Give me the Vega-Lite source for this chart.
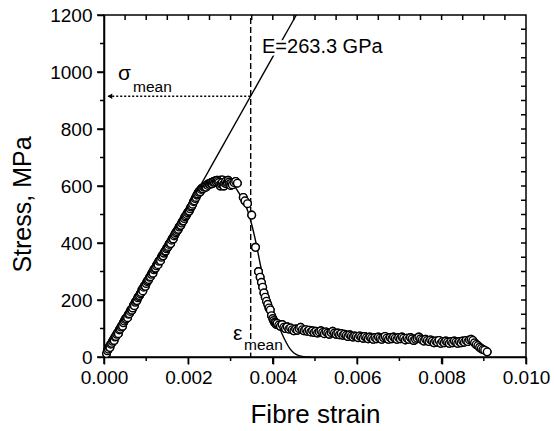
{
  "$schema": "https://vega.github.io/schema/vega-lite/v6.json",
  "width": 422,
  "height": 342,
  "autosize": "none",
  "padding": {"left": 104, "top": 15, "right": 28, "bottom": 74},
  "config": {
    "font": "Liberation Sans",
    "view": {"stroke": null},
    "axis": {"domainColor": "black", "tickColor": "black", "labelColor": "black", "titleColor": "black", "grid": false}
  },
  "datasets": {
    "pts": [
      {"strain":0.00006,"stress":12},{"strain":0.00008,"stress":22},{"strain":0.0001,"stress":28},{"strain":0.00012,"stress":35},{"strain":0.00014,"stress":33},{"strain":0.00016,"stress":45},{"strain":0.00018,"stress":48},{"strain":0.0002,"stress":55},{"strain":0.00022,"stress":60},{"strain":0.00024,"stress":58},{"strain":0.00026,"stress":70},{"strain":0.00028,"stress":72},{"strain":0.0003,"stress":80},{"strain":0.00032,"stress":84},{"strain":0.00034,"stress":82},{"strain":0.00036,"stress":95},{"strain":0.00038,"stress":98},{"strain":0.0004,"stress":105},{"strain":0.00042,"stress":110},{"strain":0.00044,"stress":108},{"strain":0.00046,"stress":120},{"strain":0.00048,"stress":126},{"strain":0.0005,"stress":132},{"strain":0.00052,"stress":135},{"strain":0.00054,"stress":140},{"strain":0.00056,"stress":138},{"strain":0.00058,"stress":150},{"strain":0.0006,"stress":152},{"strain":0.00062,"stress":160},{"strain":0.00064,"stress":166},{"strain":0.00066,"stress":164},{"strain":0.00068,"stress":172},{"strain":0.0007,"stress":182},{"strain":0.00072,"stress":180},{"strain":0.00074,"stress":192},{"strain":0.00076,"stress":196},{"strain":0.00078,"stress":198},{"strain":0.0008,"stress":208},{"strain":0.00082,"stress":212},{"strain":0.00084,"stress":216},{"strain":0.00086,"stress":222},{"strain":0.00088,"stress":226},{"strain":0.0009,"stress":236},{"strain":0.00092,"stress":232},{"strain":0.00094,"stress":245},{"strain":0.00096,"stress":250},{"strain":0.00098,"stress":248},{"strain":0.001,"stress":258},{"strain":0.00102,"stress":265},{"strain":0.00104,"stress":268},{"strain":0.00106,"stress":272},{"strain":0.00108,"stress":280},{"strain":0.0011,"stress":282},{"strain":0.00112,"stress":290},{"strain":0.00114,"stress":296},{"strain":0.00116,"stress":294},{"strain":0.00118,"stress":306},{"strain":0.0012,"stress":310},{"strain":0.00122,"stress":312},{"strain":0.00124,"stress":320},{"strain":0.00126,"stress":326},{"strain":0.00128,"stress":324},{"strain":0.0013,"stress":336},{"strain":0.00132,"stress":340},{"strain":0.00134,"stress":338},{"strain":0.00136,"stress":350},{"strain":0.00138,"stress":356},{"strain":0.0014,"stress":355},{"strain":0.00142,"stress":364},{"strain":0.00144,"stress":370},{"strain":0.00146,"stress":372},{"strain":0.00148,"stress":380},{"strain":0.0015,"stress":384},{"strain":0.00152,"stress":388},{"strain":0.00154,"stress":395},{"strain":0.00156,"stress":400},{"strain":0.00158,"stress":398},{"strain":0.0016,"stress":410},{"strain":0.00162,"stress":416},{"strain":0.00164,"stress":414},{"strain":0.00166,"stress":425},{"strain":0.00168,"stress":430},{"strain":0.0017,"stress":436},{"strain":0.00172,"stress":440},{"strain":0.00174,"stress":445},{"strain":0.00176,"stress":448},{"strain":0.00178,"stress":456},{"strain":0.0018,"stress":460},{"strain":0.00182,"stress":462},{"strain":0.00184,"stress":470},{"strain":0.00186,"stress":476},{"strain":0.00188,"stress":478},{"strain":0.0019,"stress":486},{"strain":0.00192,"stress":492},{"strain":0.00194,"stress":495},{"strain":0.00196,"stress":500},{"strain":0.00198,"stress":506},{"strain":0.002,"stress":510},{"strain":0.00202,"stress":512},{"strain":0.00204,"stress":520},{"strain":0.00206,"stress":526},{"strain":0.00208,"stress":530},{"strain":0.0021,"stress":536},{"strain":0.00212,"stress":545},{"strain":0.00214,"stress":548},{"strain":0.00216,"stress":556},{"strain":0.00218,"stress":560},{"strain":0.0022,"stress":568},{"strain":0.00222,"stress":572},{"strain":0.00224,"stress":578},{"strain":0.00226,"stress":582},{"strain":0.00228,"stress":580},{"strain":0.0023,"stress":588},{"strain":0.00232,"stress":592},{"strain":0.00234,"stress":590},{"strain":0.00236,"stress":596},{"strain":0.00238,"stress":598},{"strain":0.0024,"stress":600},{"strain":0.00242,"stress":596},{"strain":0.00244,"stress":604},{"strain":0.00246,"stress":602},{"strain":0.00248,"stress":608},{"strain":0.0025,"stress":606},{"strain":0.00252,"stress":610},{"strain":0.00254,"stress":612},{"strain":0.00256,"stress":608},{"strain":0.00258,"stress":614},{"strain":0.0026,"stress":616},{"strain":0.00262,"stress":612},{"strain":0.00264,"stress":618},{"strain":0.00266,"stress":614},{"strain":0.00268,"stress":620},{"strain":0.0027,"stress":616},{"strain":0.00272,"stress":612},{"strain":0.00274,"stress":604},{"strain":0.00276,"stress":600},{"strain":0.00278,"stress":606},{"strain":0.0028,"stress":612},{"strain":0.00282,"stress":604},{"strain":0.00284,"stress":600},{"strain":0.00286,"stress":610},{"strain":0.00288,"stress":616},{"strain":0.0029,"stress":608},{"strain":0.00292,"stress":612},{"strain":0.00294,"stress":620},{"strain":0.00296,"stress":614},{"strain":0.00298,"stress":608},{"strain":0.003,"stress":602},{"strain":0.00302,"stress":610},{"strain":0.00304,"stress":604},{"strain":0.00308,"stress":612},{"strain":0.00312,"stress":616},{"strain":0.00316,"stress":610},
      {"strain":0.0033,"stress":560},{"strain":0.00334,"stress":548},{"strain":0.0034,"stress":538},{"strain":0.0035,"stress":498},{"strain":0.00359,"stress":385},{"strain":0.00366,"stress":300},{"strain":0.0037,"stress":280},{"strain":0.00373,"stress":262},{"strain":0.00376,"stress":245},{"strain":0.00379,"stress":225},{"strain":0.00382,"stress":210},{"strain":0.00385,"stress":196},{"strain":0.00388,"stress":185},{"strain":0.00391,"stress":172},{"strain":0.00394,"stress":165},{"strain":0.00397,"stress":145},{"strain":0.004,"stress":135},{"strain":0.00402,"stress":128},{"strain":0.00404,"stress":122},{"strain":0.00406,"stress":120},{"strain":0.00408,"stress":115},
      {"strain":0.0041,"stress":118},{"strain":0.00414,"stress":112},{"strain":0.00418,"stress":108},{"strain":0.00422,"stress":114},{"strain":0.00426,"stress":104},{"strain":0.0043,"stress":100},{"strain":0.00434,"stress":106},{"strain":0.00438,"stress":98},{"strain":0.00442,"stress":102},{"strain":0.00446,"stress":96},{"strain":0.0045,"stress":92},{"strain":0.00454,"stress":98},{"strain":0.00458,"stress":94},{"strain":0.00462,"stress":100},{"strain":0.00466,"stress":104},{"strain":0.0047,"stress":96},{"strain":0.00474,"stress":92},{"strain":0.00478,"stress":96},{"strain":0.00482,"stress":90},{"strain":0.00486,"stress":94},{"strain":0.0049,"stress":88},{"strain":0.00494,"stress":92},{"strain":0.00498,"stress":86},{"strain":0.00502,"stress":90},{"strain":0.00506,"stress":84},{"strain":0.0051,"stress":88},{"strain":0.00514,"stress":92},{"strain":0.00518,"stress":86},{"strain":0.00522,"stress":82},{"strain":0.00526,"stress":88},{"strain":0.0053,"stress":84},{"strain":0.00534,"stress":80},{"strain":0.00538,"stress":86},{"strain":0.00542,"stress":90},{"strain":0.00546,"stress":84},{"strain":0.0055,"stress":80},{"strain":0.00554,"stress":84},{"strain":0.00558,"stress":78},{"strain":0.00562,"stress":82},{"strain":0.00566,"stress":76},{"strain":0.0057,"stress":80},{"strain":0.00574,"stress":76},{"strain":0.00578,"stress":72},{"strain":0.00582,"stress":78},{"strain":0.00586,"stress":74},{"strain":0.0059,"stress":70},{"strain":0.00594,"stress":74},{"strain":0.00598,"stress":72},{"strain":0.00602,"stress":68},{"strain":0.00606,"stress":74},{"strain":0.0061,"stress":70},{"strain":0.00614,"stress":66},{"strain":0.00618,"stress":72},{"strain":0.00622,"stress":68},{"strain":0.00626,"stress":64},{"strain":0.0063,"stress":70},{"strain":0.00634,"stress":66},{"strain":0.00638,"stress":62},{"strain":0.00642,"stress":68},{"strain":0.00646,"stress":64},{"strain":0.0065,"stress":70},{"strain":0.00654,"stress":66},{"strain":0.00658,"stress":62},{"strain":0.00662,"stress":68},{"strain":0.00666,"stress":72},{"strain":0.0067,"stress":66},{"strain":0.00674,"stress":62},{"strain":0.00678,"stress":68},{"strain":0.00682,"stress":64},{"strain":0.00686,"stress":70},{"strain":0.0069,"stress":66},{"strain":0.00694,"stress":62},{"strain":0.00698,"stress":68},{"strain":0.00702,"stress":64},{"strain":0.00706,"stress":70},{"strain":0.0071,"stress":66},{"strain":0.00714,"stress":60},{"strain":0.00718,"stress":66},{"strain":0.00722,"stress":62},{"strain":0.00726,"stress":68},{"strain":0.0073,"stress":64},{"strain":0.00734,"stress":58},{"strain":0.00738,"stress":62},{"strain":0.00742,"stress":66},{"strain":0.00746,"stress":70},{"strain":0.0075,"stress":64},{"strain":0.00754,"stress":60},{"strain":0.00758,"stress":56},{"strain":0.00762,"stress":62},{"strain":0.00766,"stress":58},{"strain":0.0077,"stress":54},{"strain":0.00774,"stress":60},{"strain":0.00778,"stress":56},{"strain":0.00782,"stress":50},{"strain":0.00786,"stress":56},{"strain":0.0079,"stress":52},{"strain":0.00794,"stress":58},{"strain":0.00798,"stress":48},{"strain":0.00802,"stress":54},{"strain":0.00806,"stress":50},{"strain":0.0081,"stress":56},{"strain":0.00814,"stress":52},{"strain":0.00818,"stress":48},{"strain":0.00822,"stress":54},{"strain":0.00826,"stress":50},{"strain":0.0083,"stress":56},{"strain":0.00834,"stress":52},{"strain":0.00838,"stress":48},{"strain":0.00842,"stress":54},{"strain":0.00846,"stress":50},{"strain":0.0085,"stress":56},{"strain":0.00854,"stress":52},{"strain":0.00858,"stress":58},{"strain":0.00862,"stress":54},{"strain":0.00866,"stress":60},{"strain":0.0087,"stress":62},{"strain":0.00874,"stress":58},{"strain":0.00878,"stress":50},{"strain":0.00882,"stress":44},{"strain":0.00886,"stress":40},{"strain":0.0089,"stress":34},{"strain":0.00894,"stress":30},{"strain":0.00898,"stress":26},{"strain":0.00902,"stress":24},{"strain":0.00908,"stress":18}
    ],
    "fit": [
      {"strain":0,"stress":0},{"strain":0.001,"stress":257},{"strain":0.002,"stress":510},{"strain":0.0023,"stress":575},{"strain":0.0025,"stress":612},{"strain":0.0027,"stress":632},{"strain":0.0028,"stress":635},{"strain":0.0029,"stress":630},{"strain":0.003,"stress":618},{"strain":0.0031,"stress":598},{"strain":0.0032,"stress":575},{"strain":0.0033,"stress":548},{"strain":0.0034,"stress":515},{"strain":0.0035,"stress":465},{"strain":0.0036,"stress":402},{"strain":0.0037,"stress":328},{"strain":0.0038,"stress":262},{"strain":0.0039,"stress":210},{"strain":0.004,"stress":166},{"strain":0.0041,"stress":125},{"strain":0.0042,"stress":88},{"strain":0.0043,"stress":56},{"strain":0.0044,"stress":30},{"strain":0.0045,"stress":14},{"strain":0.0046,"stress":6},{"strain":0.0047,"stress":2},{"strain":0.0048,"stress":0},{"strain":0.0049,"stress":0}
    ],
    "lin": [{"strain":0,"stress":0},{"strain":0.004557,"stress":1200}],
    "vline": [{"strain":0.003476,"stress":0},{"strain":0.003476,"stress":1200}],
    "hline": [{"strain":0.003476,"stress":915},{"strain":0.0001,"stress":915}],
    "arrow": [{"strain":0.00014,"stress":915}],
    "frame": [{"strain":0,"strain2":0.01,"stress":0,"stress2":1200}],
    "xtop": [{"strain":0.0005},{"strain":0.001},{"strain":0.0015},{"strain":0.002},{"strain":0.0025},{"strain":0.003},{"strain":0.0035},{"strain":0.004},{"strain":0.0045},{"strain":0.005},{"strain":0.0055},{"strain":0.006},{"strain":0.0065},{"strain":0.007},{"strain":0.0075},{"strain":0.008},{"strain":0.0085},{"strain":0.009},{"strain":0.0095}],
    "xmajor": [{"strain":0},{"strain":0.002},{"strain":0.004},{"strain":0.006},{"strain":0.008},{"strain":0.01}],
    "xminor": [{"strain":0.001},{"strain":0.003},{"strain":0.005},{"strain":0.007},{"strain":0.009}],
    "ymajor": [{"stress":0},{"stress":200},{"stress":400},{"stress":600},{"stress":800},{"stress":1000},{"stress":1200}],
    "yminor": [{"stress":100},{"stress":300},{"stress":500},{"stress":700},{"stress":900},{"stress":1100}],
    "yright": [{"stress":50},{"stress":100},{"stress":150},{"stress":200},{"stress":250},{"stress":300},{"stress":350},{"stress":400},{"stress":450},{"stress":500},{"stress":550},{"stress":600},{"stress":650},{"stress":700},{"stress":750},{"stress":800},{"stress":850},{"stress":900},{"stress":950},{"stress":1000},{"stress":1050},{"stress":1100},{"stress":1150}],
    "labels": [
      {"t":"σ","strain":0.000332,"stress":971,"kind":"sym"},
      {"t":"mean","strain":0.000687,"stress":929,"kind":"sub"},
      {"t":"ε","strain":0.003057,"stress":61,"kind":"sym"},
      {"t":"mean","strain":0.003318,"stress":25,"kind":"sub"},
      {"t":"E=263.3 GPa","strain":0.003744,"stress":1065,"kind":"E"}
    ]
  },
  "layer": [
    {
      "data": {"name": "pts"},
      "mark": {"type": "point", "shape": "circle", "filled": false, "fill": "white", "fillOpacity": 1, "stroke": "black", "strokeWidth": 1.4, "size": 58, "opacity": 1},
      "encoding": {
        "x": {"field": "strain", "type": "quantitative", "scale": {"domain": [0, 0.01], "nice": false},
              "axis": {"orient": "bottom", "values": [0,0.002,0.004,0.006,0.008,0.01], "format": ".3f", "tickSize": 7, "tickWidth": 1.5, "domainWidth": 1.5, "labelPadding": 4, "labelFontSize": 19, "labelFlush": false, "title": "Fibre strain", "titleFontWeight": "normal", "titleFontSize": 26, "titleBaseline": "alphabetic", "titleY": 65}},
        "y": {"field": "stress", "type": "quantitative", "scale": {"domain": [0, 1200], "nice": false},
              "axis": {"orient": "left", "values": [0,200,400,600,800,1000,1200], "format": "d", "tickSize": 7, "tickWidth": 1.5, "domainWidth": 1.5, "labelPadding": 5, "labelFontSize": 19, "labelFlush": false, "title": "Stress, MPa", "titleFontWeight": "normal", "titleFontSize": 25, "titleBaseline": "alphabetic", "titleX": -74, "titleY": 189}}
      }
    },
    {
      "data": {"name": "frame"},
      "mark": {"type": "rect", "filled": false, "fill": null, "stroke": "black", "strokeWidth": 1.5},
      "encoding": {"x": {"field": "strain", "type": "quantitative"}, "x2": {"field": "strain2"}, "y": {"field": "stress", "type": "quantitative"}, "y2": {"field": "stress2"}}
    },
    {
      "data": {"name": "xtop"},
      "mark": {"type": "tick", "orient": "vertical", "size": 10, "thickness": 1.5, "color": "black", "opacity": 1, "clip": true},
      "encoding": {"x": {"field": "strain", "type": "quantitative"}, "y": {"datum": 1200, "type": "quantitative"}}
    },
    {
      "data": {"name": "yright"},
      "mark": {"type": "tick", "orient": "horizontal", "size": 10, "thickness": 1.5, "color": "black", "opacity": 1, "clip": true},
      "encoding": {"x": {"datum": 0.01, "type": "quantitative"}, "y": {"field": "stress", "type": "quantitative"}}
    },
    {
      "data": {"name": "xmajor"},
      "mark": {"type": "tick", "orient": "vertical", "size": 7, "thickness": 1.5, "color": "black", "opacity": 1, "yOffset": 3.5},
      "encoding": {"x": {"field": "strain", "type": "quantitative"}, "y": {"datum": 0, "type": "quantitative"}}
    },
    {
      "data": {"name": "xminor"},
      "mark": {"type": "tick", "orient": "vertical", "size": 4, "thickness": 1.5, "color": "black", "opacity": 1, "yOffset": 2},
      "encoding": {"x": {"field": "strain", "type": "quantitative"}, "y": {"datum": 0, "type": "quantitative"}}
    },
    {
      "data": {"name": "ymajor"},
      "mark": {"type": "tick", "orient": "horizontal", "size": 7, "thickness": 1.5, "color": "black", "opacity": 1, "xOffset": -3.5},
      "encoding": {"x": {"datum": 0, "type": "quantitative"}, "y": {"field": "stress", "type": "quantitative"}}
    },
    {
      "data": {"name": "yminor"},
      "mark": {"type": "tick", "orient": "horizontal", "size": 4, "thickness": 1.5, "color": "black", "opacity": 1, "xOffset": -2},
      "encoding": {"x": {"datum": 0, "type": "quantitative"}, "y": {"field": "stress", "type": "quantitative"}}
    },
    {
      "data": {"name": "lin"},
      "mark": {"type": "line", "color": "black", "strokeWidth": 1.4},
      "encoding": {"x": {"field": "strain", "type": "quantitative"}, "y": {"field": "stress", "type": "quantitative"}}
    },
    {
      "data": {"name": "vline"},
      "mark": {"type": "line", "color": "black", "strokeWidth": 1.4, "strokeDash": [6, 3]},
      "encoding": {"x": {"field": "strain", "type": "quantitative"}, "y": {"field": "stress", "type": "quantitative"}}
    },
    {
      "data": {"name": "fit"},
      "mark": {"type": "line", "color": "black", "strokeWidth": 1.4, "interpolate": "monotone"},
      "encoding": {"x": {"field": "strain", "type": "quantitative"}, "y": {"field": "stress", "type": "quantitative"}}
    },
    {
      "data": {"name": "hline"},
      "mark": {"type": "line", "color": "black", "strokeWidth": 1.5, "strokeDash": [2, 2]},
      "encoding": {"x": {"field": "strain", "type": "quantitative"}, "y": {"field": "stress", "type": "quantitative"}}
    },
    {
      "data": {"name": "arrow"},
      "mark": {"type": "point", "shape": "triangle-left", "filled": true, "color": "black", "size": 30, "opacity": 1},
      "encoding": {"x": {"field": "strain", "type": "quantitative"}, "y": {"field": "stress", "type": "quantitative"}}
    },
    {
      "data": {"name": "pts"},
      "mark": {"type": "point", "shape": "circle", "filled": false, "fill": "white", "fillOpacity": 1, "stroke": "black", "strokeWidth": 1.4, "size": 58, "opacity": 1},
      "encoding": {"x": {"field": "strain", "type": "quantitative"}, "y": {"field": "stress", "type": "quantitative"}}
    },
    {
      "data": {"name": "labels"},
      "transform": [{"filter": "datum.kind === 'sym'"}],
      "mark": {"type": "text", "align": "left", "baseline": "alphabetic", "fontSize": 21, "color": "black", "stroke": "white", "strokeWidth": 5},
      "encoding": {"x": {"field": "strain", "type": "quantitative"}, "y": {"field": "stress", "type": "quantitative"}, "text": {"field": "t"}}
    },
    {
      "data": {"name": "labels"},
      "transform": [{"filter": "datum.kind === 'sub'"}],
      "mark": {"type": "text", "align": "left", "baseline": "alphabetic", "fontSize": 15.5, "color": "black", "stroke": "white", "strokeWidth": 5},
      "encoding": {"x": {"field": "strain", "type": "quantitative"}, "y": {"field": "stress", "type": "quantitative"}, "text": {"field": "t"}}
    },
    {
      "data": {"name": "labels"},
      "transform": [{"filter": "datum.kind === 'E'"}],
      "mark": {"type": "text", "align": "left", "baseline": "alphabetic", "fontSize": 20, "color": "black", "stroke": "white", "strokeWidth": 5},
      "encoding": {"x": {"field": "strain", "type": "quantitative"}, "y": {"field": "stress", "type": "quantitative"}, "text": {"field": "t"}}
    },
    {
      "data": {"name": "labels"},
      "transform": [{"filter": "datum.kind === 'sym'"}],
      "mark": {"type": "text", "align": "left", "baseline": "alphabetic", "fontSize": 21, "color": "black"},
      "encoding": {"x": {"field": "strain", "type": "quantitative"}, "y": {"field": "stress", "type": "quantitative"}, "text": {"field": "t"}}
    },
    {
      "data": {"name": "labels"},
      "transform": [{"filter": "datum.kind === 'sub'"}],
      "mark": {"type": "text", "align": "left", "baseline": "alphabetic", "fontSize": 15.5, "color": "black"},
      "encoding": {"x": {"field": "strain", "type": "quantitative"}, "y": {"field": "stress", "type": "quantitative"}, "text": {"field": "t"}}
    },
    {
      "data": {"name": "labels"},
      "transform": [{"filter": "datum.kind === 'E'"}],
      "mark": {"type": "text", "align": "left", "baseline": "alphabetic", "fontSize": 20, "color": "black"},
      "encoding": {"x": {"field": "strain", "type": "quantitative"}, "y": {"field": "stress", "type": "quantitative"}, "text": {"field": "t"}}
    }
  ]
}
